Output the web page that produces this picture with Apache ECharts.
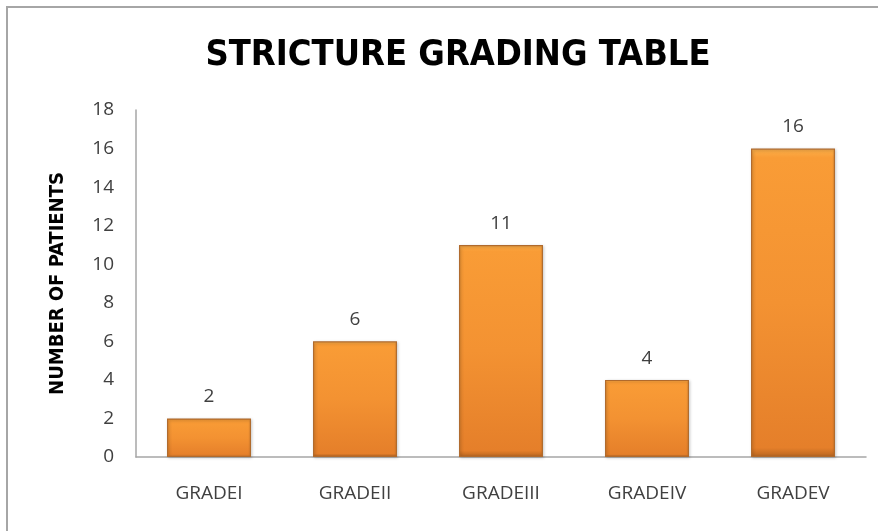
<!DOCTYPE html>
<html><head><meta charset="utf-8">
<script src="https://cdn.jsdelivr.net/npm/echarts@6/dist/echarts.min.js"></script>
<style>html,body{margin:0;padding:0;background:#fff}#c{width:878px;height:531px}</style>
</head><body><div id="c"></div>
<script>
const categories = ['GRADEI','GRADEII','GRADEIII','GRADEIV','GRADEV'];
const patients = [2, 6, 11, 4, 16];
const yTicks = {min: 0, max: 18, interval: 2};

const chart = echarts.init(document.getElementById('c'));
chart.setOption({
  animation: false,
  backgroundColor: '#fff',
  title: {
    text: 'STRICTURE GRADING TABLE',
    left: 453, top: 33, textAlign: 'center',
    textStyle: {fontFamily: '"DejaVu Sans Condensed", "Open Sans", sans-serif', fontWeight: 'bold', fontSize: 36, color: '#000'}
  },
  graphic: [{
    type: 'rect', shape: {x: 7, y: 7, width: 900, height: 600},
    style: {fill: 'none', stroke: '#a6a6a6', lineWidth: 2}, silent: true
  }],
  grid: {left: 136, right: 12, top: 110, bottom: 74},
  xAxis: {
    type: 'category', data: categories,
    axisLine: {lineStyle: {color: '#a6a6a6', width: 1.5}},
    axisTick: {show: false},
    axisLabel: {color: '#404040', fontSize: 19, fontFamily: 'Open Sans', margin: 27}
  },
  yAxis: {
    type: 'value', min: yTicks.min, max: yTicks.max, interval: yTicks.interval,
    name: 'NUMBER OF PATIENTS', nameLocation: 'middle', nameGap: 68,
    nameTextStyle: {fontFamily: '"DejaVu Sans Condensed", "Open Sans", sans-serif', fontWeight: 'bold', fontSize: 20, color: '#000'},
    axisLine: {show: true, lineStyle: {color: '#a6a6a6', width: 1.5}},
    axisTick: {show: false},
    splitLine: {show: false},
    axisLabel: {color: '#404040', fontSize: 19, fontFamily: 'Open Sans', margin: 22}
  },
  series: [{
    type: 'bar', data: patients, barWidth: '57.5%',
    itemStyle: {
      color: new echarts.graphic.LinearGradient(0, 0, 0, 1, [
        {offset: 0, color: '#fcb04a'},
        {offset: 0.03, color: '#f99c36'},
        {offset: 0.5, color: '#f39232'},
        {offset: 0.97, color: '#e57f2a'},
        {offset: 1, color: '#b8651f'}
      ]),
      borderColor: '#b06a2c', borderWidth: 1.2,
      shadowColor: 'rgba(0,0,0,0.25)', shadowBlur: 3, shadowOffsetX: 1, shadowOffsetY: 1
    },
    label: {show: true, position: 'top', distance: 12, color: '#404040', fontSize: 19, fontFamily: 'Open Sans'}
  }]
});
</script></body></html>
